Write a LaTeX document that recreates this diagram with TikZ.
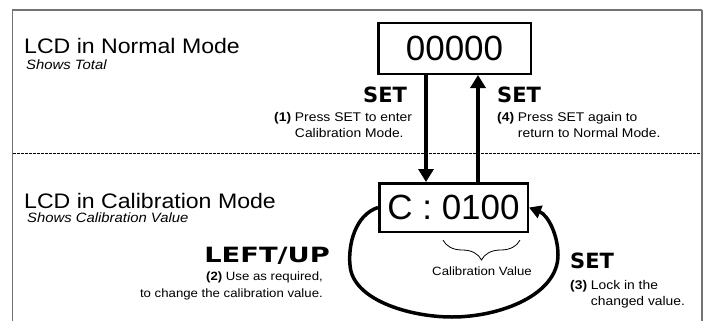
\documentclass[tikz,border=0pt]{standalone}
\usepackage{fontspec}
\usepackage{graphicx}
\setmainfont{Liberation Sans}[FakeStretch=1.1]
\newfontfamily\digitfont{Liberation Sans}
\newfontfamily\keyfont{DejaVu Sans}
\usetikzlibrary{arrows.meta,decorations.pathreplacing}
\tikzset{
  lcd/.style={draw, line width=2.5pt, inner sep=0, font=\digitfont\fontsize{35}{40}\selectfont},
  bigarrow/.style={line width=4pt, -{Triangle[length=13pt,width=15pt]}},
  looparrow/.style={line width=3.5pt, -{Triangle[length=12pt,width=13pt]}},
  title/.style={font=\fontsize{21}{25}\selectfont, inner sep=0, anchor=base west},
  subtitle/.style={font=\itshape\fontsize{13.5}{16}\selectfont, inner sep=0, anchor=base west},
  small/.style={font=\fontsize{12}{17}\selectfont, inner sep=0},
  smallb/.style={font=\fontsize{12.6}{16.5}\selectfont, inner sep=0},
  keylab/.style={font=\keyfont\bfseries\fontsize{21}{25}\selectfont, inner sep=0},
  framecol/.style={draw=black!55}
}
\begin{document}
\begin{tikzpicture}[x=1pt,y=1pt]
\useasboundingbox (0,0) rectangle (706,-321);
% frame
\draw[framecol, line width=1.3pt] (12.5,-321) -- (12.5,-10) -- (702,-10);
\draw[framecol, line width=2pt] (702,-10) -- (702,-321);
% dashed divider
\draw[line width=0.8pt, dash pattern=on 2.5pt off 1.5pt] (13,-153) -- (701,-153);
% titles
\node[title] (tn) at (24,-53.5) {LCD in Normal Mode};
\node[subtitle] (sn) at (26,-70) {Shows Total};
\node[title] (tc) at (24,-208) {LCD in Calibration Mode};
\node[subtitle] (sc) at (27,-222) {Shows Calibration Value};
% LCD boxes
\node[lcd, minimum width=152.5pt, minimum height=50.5pt] (top) at (454.5,-48.5) {00000};
\node[lcd, minimum width=148.5pt, minimum height=48.5pt] (cal) at (453.5,-207.5) {C : 0100};
% vertical arrows
\coordinate (xa) at (426,0);
\coordinate (xb) at (478,0);
\draw[bigarrow] (top.south -| xa) -- (cal.north -| xa);
\draw[bigarrow] (cal.north -| xb) -- (top.south -| xb);
% loop
\draw[looparrow] (cal.west) .. controls (355,-215) and (348,-245) .. (350,-265)
  .. controls (352,-300) and (410,-317) .. (452,-317)
  .. controls (500,-317) and (558,-295) .. (558,-255)
  .. controls (558,-235) and (548,-215) .. (cal.east);
% brace
\coordinate (br) at (520,-240);
\coordinate (bl) at (443,-240);
\draw[decorate, decoration={brace, amplitude=20pt, aspect=0.5}, line width=0.8pt] (br) -- (bl);
\node[small, anchor=base] (cv) at (482,-275) {Calibration Value};
% key labels
\node[keylab, anchor=base west] (set1) at (363,-102) {SET};
\node[keylab, anchor=base west] (set4) at (497,-102) {SET};
\node[keylab, anchor=base west] (set3) at (570,-268) {SET};
\node[keylab, anchor=base east] (lu) at (330,-262) {\scalebox{1.3}[1]{LEFT/UP}};
% descriptions
\node[smallb, anchor=base west] (d1) at (274,-121)
  {\begin{tabular}[t]{@{}l@{ }l@{}}\textbf{(1)}&Press SET to enter\\&Calibration Mode.\end{tabular}};
\node[smallb, anchor=base west] (d4) at (497,-121)
  {\begin{tabular}[t]{@{}l@{ }l@{}}\textbf{(4)}&Press SET again to\\&return to Normal Mode.\end{tabular}};
\node[smallb, anchor=base west] (d3) at (570,-289)
  {\begin{tabular}[t]{@{}l@{ }l@{}}\textbf{(3)}&Lock in the\\&changed value.\end{tabular}};
\node[small, anchor=base east] (d2) at (323,-280)
  {\begin{tabular}[t]{@{}r@{}}\textbf{(2)} Use as required,\\to change the calibration value.\end{tabular}};
\end{tikzpicture}
\end{document}
